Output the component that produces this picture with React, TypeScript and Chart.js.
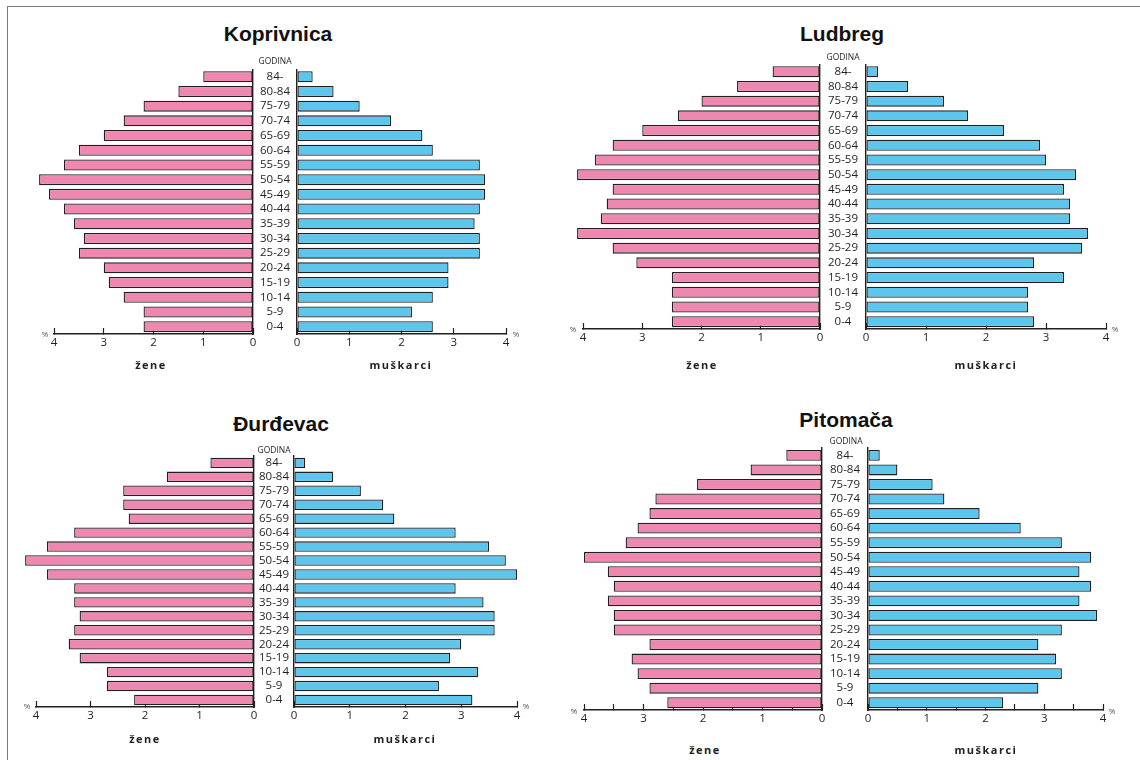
import React, { useEffect, useRef } from 'react';
import { Chart, registerables } from 'chart.js';

Chart.register(...registerables);

// ---------- DATA ----------
const AGE_GROUPS = ['84-', '80-84', '75-79', '70-74', '65-69', '60-64', '55-59', '50-54', '45-49', '40-44', '35-39', '30-34', '25-29', '20-24', '15-19', '10-14', '5-9', '0-4'];

const TOWNS = ['Koprivnica', 'Ludbreg', 'Đurđevac', 'Pitomača'];
const SEX_LABELS = ['žene', 'muškarci'];
const AGE_HEADER = 'GODINA';
const UNIT = '%';
const AXIS_MAX = 4;

const KOPRIVNICA_ZENE = [1.0, 1.5, 2.2, 2.6, 3.0, 3.5, 3.8, 4.3, 4.1, 3.8, 3.6, 3.4, 3.5, 3.0, 2.9, 2.6, 2.2, 2.2];
const KOPRIVNICA_MUSKARCI = [0.3, 0.7, 1.2, 1.8, 2.4, 2.6, 3.5, 3.6, 3.6, 3.5, 3.4, 3.5, 3.5, 2.9, 2.9, 2.6, 2.2, 2.6];
const LUDBREG_ZENE = [0.8, 1.4, 2.0, 2.4, 3.0, 3.5, 3.8, 4.1, 3.5, 3.6, 3.7, 4.1, 3.5, 3.1, 2.5, 2.5, 2.5, 2.5];
const LUDBREG_MUSKARCI = [0.2, 0.7, 1.3, 1.7, 2.3, 2.9, 3.0, 3.5, 3.3, 3.4, 3.4, 3.7, 3.6, 2.8, 3.3, 2.7, 2.7, 2.8];
const DURDEVAC_ZENE = [0.8, 1.6, 2.4, 2.4, 2.3, 3.3, 3.8, 4.2, 3.8, 3.3, 3.3, 3.2, 3.3, 3.4, 3.2, 2.7, 2.7, 2.2];
const DURDEVAC_MUSKARCI = [0.2, 0.7, 1.2, 1.6, 1.8, 2.9, 3.5, 3.8, 4.0, 2.9, 3.4, 3.6, 3.6, 3.0, 2.8, 3.3, 2.6, 3.2];
const PITOMACA_ZENE = [0.6, 1.2, 2.1, 2.8, 2.9, 3.1, 3.3, 4.0, 3.6, 3.5, 3.6, 3.5, 3.5, 2.9, 3.2, 3.1, 2.9, 2.6];
const PITOMACA_MUSKARCI = [0.2, 0.5, 1.1, 1.3, 1.9, 2.6, 3.3, 3.8, 3.6, 3.8, 3.6, 3.9, 3.3, 2.9, 3.2, 3.3, 2.9, 2.3];

const WOMEN_SERIES = [KOPRIVNICA_ZENE, LUDBREG_ZENE, DURDEVAC_ZENE, PITOMACA_ZENE];
const MEN_SERIES = [KOPRIVNICA_MUSKARCI, LUDBREG_MUSKARCI, DURDEVAC_MUSKARCI, PITOMACA_MUSKARCI];

// ---------- LAYOUT / STYLE ----------
const LAYOUT = [
  { wx4: 54, wx0: 253, mx0: 297, mx4: 506, axisY: 334, sp: 14.7, titleX: 278, titleY: 33, godX: 275, godY: 61, zeneX: 151, muskX: 401, sexY: 364, pctLX: 45, pctRX: 516, pctY: 334, step: 1 },
  { wx4: 583, wx0: 820, mx0: 866, mx4: 1106, axisY: 329, sp: 14.7, titleX: 842, titleY: 33, godX: 843, godY: 57, zeneX: 702, muskX: 986, sexY: 364, pctLX: 573, pctRX: 1115, pctY: 329, step: 1 },
  { wx4: 36, wx0: 254, mx0: 294, mx4: 517, axisY: 707, sp: 13.95, titleX: 281, titleY: 423, godX: 274, godY: 450, zeneX: 145, muskX: 405, sexY: 738, pctLX: 27, pctRX: 526, pctY: 706, step: 1 },
  { wx4: 584, wx0: 822, mx0: 868, mx4: 1103, axisY: 710, sp: 14.55, titleX: 846, titleY: 419, godX: 846, godY: 441, zeneX: 705, muskX: 986, sexY: 749, pctLX: 574, pctRX: 1112, pctY: 711, step: 0.5 },
];

const PINK = '#EE88B0';
const BLUE = '#5CC6EC';
const EDGE = '#231F20';
const TEXT = '#231F20';
const FONT = '"Open Sans", "Noto Sans", sans-serif';
const LABEL_SIZE = 11.5;

function measureWidest(labels: string[], size: number) {
  const ctx = document.createElement('canvas').getContext('2d');
  if (!ctx) return 30;
  ctx.font = `${size}px ${FONT}`;
  return Math.max(...labels.map((l) => ctx.measureText(l).width));
}

type Geo = typeof LAYOUT[number];

function Half({ values, side, g }: { values: number[]; side: 'w' | 'm'; g: Geo }) {
  const ref = useRef<HTMLCanvasElement>(null);
  const isW = side === 'w';
  const PT = 16;
  const HX = 26;
  const plotH = AGE_GROUPS.length * g.sp;
  const H = Math.ceil(PT + plotH + HX);
  const top = g.axisY - (H - HX);
  const padTop = H - HX - plotH;
  let left: number, W: number, padL: number, padR: number, yWidth = 0;
  if (isW) {
    left = Math.round(g.wx4) - 30;
    W = Math.round(g.wx0) + 20 - left;
    padL = g.wx4 - left;
    padR = left + W - g.wx0;
  } else {
    left = Math.round(g.wx0);
    yWidth = g.mx0 - left;
    W = Math.ceil(g.mx4 + 30 - left);
    padL = 0;
    padR = left + W - g.mx4;
  }

  useEffect(() => {
    if (!ref.current) return;
    const widest = measureWidest(AGE_GROUPS, LABEL_SIZE);
    const labelPad = Math.max((yWidth - widest) / 2, 0);
    const chart = new Chart(ref.current, {
      type: 'bar',
      data: {
        labels: AGE_GROUPS,
        datasets: [
          {
            data: values,
            backgroundColor: isW ? PINK : BLUE,
            borderColor: EDGE,
            borderWidth: 1.3,
            borderSkipped: false,
            barPercentage: 0.75,
            categoryPercentage: 1,
            clip: false,
          } as any,
        ],
      },
      options: {
        indexAxis: 'y',
        responsive: false,
        animation: false,
        devicePixelRatio: 1,
        events: [],
        layout: { padding: { left: padL, right: padR, top: padTop, bottom: 0 } },
        plugins: { legend: { display: false }, tooltip: { enabled: false }, title: { display: false } },
        scales: {
          x: {
            type: 'linear',
            min: 0,
            max: AXIS_MAX,
            reverse: isW,
            position: 'bottom',
            ticks: {
              stepSize: g.step,
              autoSkip: false,
              maxRotation: 0,
              padding: 8,
              color: TEXT,
              font: { family: FONT, size: LABEL_SIZE },
              callback: (v: any) => (Number.isInteger(Number(v)) ? String(v) : ''),
            },
            grid: { drawOnChartArea: false, drawTicks: true, tickLength: -6, tickColor: EDGE, tickWidth: 1.2 },
            border: { display: true, color: EDGE, width: 1.5 },
            afterFit: (s: any) => {
              s.height = HX;
            },
          },
          y: {
            type: 'category',
            position: isW ? 'right' : 'left',
            offset: true,
            ticks: isW
              ? { display: false }
              : { display: true, autoSkip: false, crossAlign: 'center', padding: labelPad, color: TEXT, font: { family: FONT, size: LABEL_SIZE } },
            grid: { display: false, drawTicks: false },
            border: { display: true, color: EDGE, width: 1.4 },
            afterFit: (s: any) => {
              s.width = yWidth;
            },
          },
        },
      } as any,
    });
    return () => chart.destroy();
  }, []);

  return <canvas ref={ref} width={W} height={H} style={{ position: 'absolute', left, top, width: W, height: H }} />;
}

function Txt({ x, y, children, style }: { x: number; y: number; children: React.ReactNode; style?: React.CSSProperties }) {
  return (
    <div
      style={{
        position: 'absolute',
        left: x,
        top: y,
        transform: 'translate(-50%, -50%)',
        whiteSpace: 'nowrap',
        lineHeight: 1,
        ...style,
      }}
    >
      {children}
    </div>
  );
}

export default function App() {
  return (
    <div style={{ position: 'absolute', left: 0, top: 0, width: 1140, height: 760, background: '#fff', overflow: 'hidden' }}>
      <div
        style={{
          position: 'absolute',
          left: 7,
          top: 6,
          width: 1140,
          height: 760,
          borderTop: '1.5px solid #7b7b7b',
          borderLeft: '1.5px solid #7b7b7b',
          boxSizing: 'border-box',
        }}
      />
      {LAYOUT.map((g, i) => (
        <React.Fragment key={TOWNS[i]}>
          <Half values={WOMEN_SERIES[i]} side="w" g={g} />
          <Half values={MEN_SERIES[i]} side="m" g={g} />
          <Txt x={g.titleX} y={g.titleY} style={{ fontFamily: '"Liberation Sans", Arial, sans-serif', fontWeight: 'bold', fontSize: 21, color: '#111' }}>
            {TOWNS[i]}
          </Txt>
          <Txt x={g.godX} y={g.godY} style={{ fontFamily: FONT, fontSize: 8.5, color: TEXT }}>
            {AGE_HEADER}
          </Txt>
          <Txt x={g.zeneX} y={g.sexY} style={{ fontFamily: FONT, fontWeight: 'bold', fontSize: 11, letterSpacing: 1.5, color: TEXT }}>
            {SEX_LABELS[0]}
          </Txt>
          <Txt x={g.muskX} y={g.sexY} style={{ fontFamily: FONT, fontWeight: 'bold', fontSize: 11, letterSpacing: 1.5, color: TEXT }}>
            {SEX_LABELS[1]}
          </Txt>
          <Txt x={g.pctLX} y={g.pctY} style={{ fontFamily: FONT, fontSize: 8, color: '#555' }}>
            {UNIT}
          </Txt>
          <Txt x={g.pctRX} y={g.pctY} style={{ fontFamily: FONT, fontSize: 8, color: '#555' }}>
            {UNIT}
          </Txt>
        </React.Fragment>
      ))}
    </div>
  );
}
